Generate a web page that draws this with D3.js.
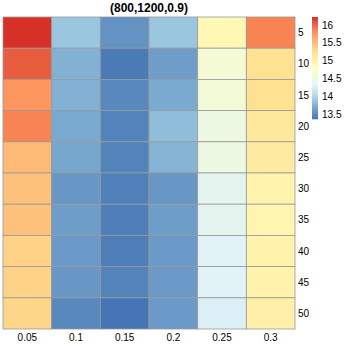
<!DOCTYPE html>
<html>
<head>
<meta charset="utf-8">
<script src="https://cdn.jsdelivr.net/npm/d3@7"></script>
<style>
  body { margin: 0; background: #fff; }
  text { font-family: "Liberation Sans", Arial, sans-serif; fill: #000; }
</style>
</head>
<body>
<script>
// Column and row labels
var cols = ["0.05", "0.1", "0.15", "0.2", "0.25", "0.3"];
var rows = ["5", "10", "15", "20", "25", "30", "35", "40", "45", "50"];

// Cell values, one array per row
var row5  = [16.23, 13.90, 13.55, 13.90, 14.90, 15.80];
var row10 = [16.00, 13.75, 13.40, 13.62, 14.62, 15.25];
var row15 = [15.70, 13.75, 13.48, 13.70, 14.60, 15.25];
var row20 = [15.80, 13.70, 13.45, 13.83, 14.50, 15.15];
var row25 = [15.50, 13.68, 13.45, 13.77, 14.50, 15.10];
var row30 = [15.45, 13.58, 13.43, 13.58, 14.38, 14.98];
var row35 = [15.45, 13.62, 13.42, 13.62, 14.38, 14.95];
var row40 = [15.35, 13.60, 13.42, 13.60, 14.33, 15.00];
var row45 = [15.35, 13.58, 13.45, 13.60, 14.33, 15.00];
var row50 = [15.33, 13.48, 13.36, 13.60, 14.28, 15.02];
var values = [row5, row10, row15, row20, row25, row30, row35, row40, row45, row50];

// Legend ticks
var legendTicks = [13.5, 14, 14.5, 15, 15.5, 16];

var palette = ["#4575B4", "#91BFDB", "#E0F3F8", "#FFFFBF", "#FEE090", "#FC8D59", "#D73027"];

var width = 345, height = 345;

var svg = d3.select("body").append("svg")
    .attr("width", width)
    .attr("height", height);

var all = d3.merge(values);
var vmin = d3.min(all), vmax = d3.max(all);

// Colour scale: reversed RdYlBu, stretched over the data range
var stops = palette.map(function(c, i){ return vmin + (vmax - vmin) * i / (palette.length - 1); });
var color = d3.scaleLinear().domain(stops).range(palette).interpolate(d3.interpolateRgb);

var x = d3.scaleBand().domain(cols).range([3, 295]);
var y = d3.scaleBand().domain(rows).range([17, 329]);

// Cells
var cells = [];
values.forEach(function(r, i){
    r.forEach(function(v, j){ cells.push({row: rows[i], col: cols[j], v: v}); });
});

svg.selectAll(".cell")
    .data(cells)
    .enter()
    .append("rect")
    .attr("class", "cell")
    .attr("x", function(d){ return x(d.col); })
    .attr("y", function(d){ return y(d.row); })
    .attr("width", x.bandwidth())
    .attr("height", y.bandwidth())
    .attr("fill", function(d){ return color(d.v); })
    .attr("stroke", "#999999")
    .attr("stroke-width", 0.8);

// Column labels
svg.selectAll(".collab")
    .data(cols)
    .enter()
    .append("text")
    .attr("x", function(d){ return x(d) + x.bandwidth() / 2; })
    .attr("y", 341)
    .attr("text-anchor", "middle")
    .attr("font-size", 10)
    .text(function(d){ return d; });

// Row labels
svg.selectAll(".rowlab")
    .data(rows)
    .enter()
    .append("text")
    .attr("x", 298)
    .attr("y", function(d){ return y(d) + y.bandwidth() / 2; })
    .attr("dy", "0.35em")
    .attr("font-size", 10)
    .text(function(d){ return d; });

// Title
svg.append("text")
    .attr("x", (3 + 295) / 2)
    .attr("y", 12)
    .attr("text-anchor", "middle")
    .attr("font-size", 12)
    .attr("font-weight", "bold")
    .text("(800,1200,0.9)");

// Legend colour bar
var ly = d3.scaleLinear().domain([vmax, vmin]).range([17, 119]);
var nSteps = 100;
var steps = d3.range(nSteps).map(function(i){ return vmin + (vmax - vmin) * (i + 0.5) / nSteps; });
var stepH = (119 - 17) / nSteps;

svg.selectAll(".lg")
    .data(steps)
    .enter()
    .append("rect")
    .attr("x", 312)
    .attr("y", function(d){ return ly(d) - stepH / 2; })
    .attr("width", 6)
    .attr("height", stepH + 0.3)
    .attr("fill", function(d){ return color(d); });

svg.selectAll(".lgt")
    .data(legendTicks)
    .enter()
    .append("text")
    .attr("x", 322)
    .attr("y", function(d){ return ly(d); })
    .attr("dy", "0.35em")
    .attr("font-size", 10)
    .text(function(d){ return d; });
</script>
</body>
</html>
